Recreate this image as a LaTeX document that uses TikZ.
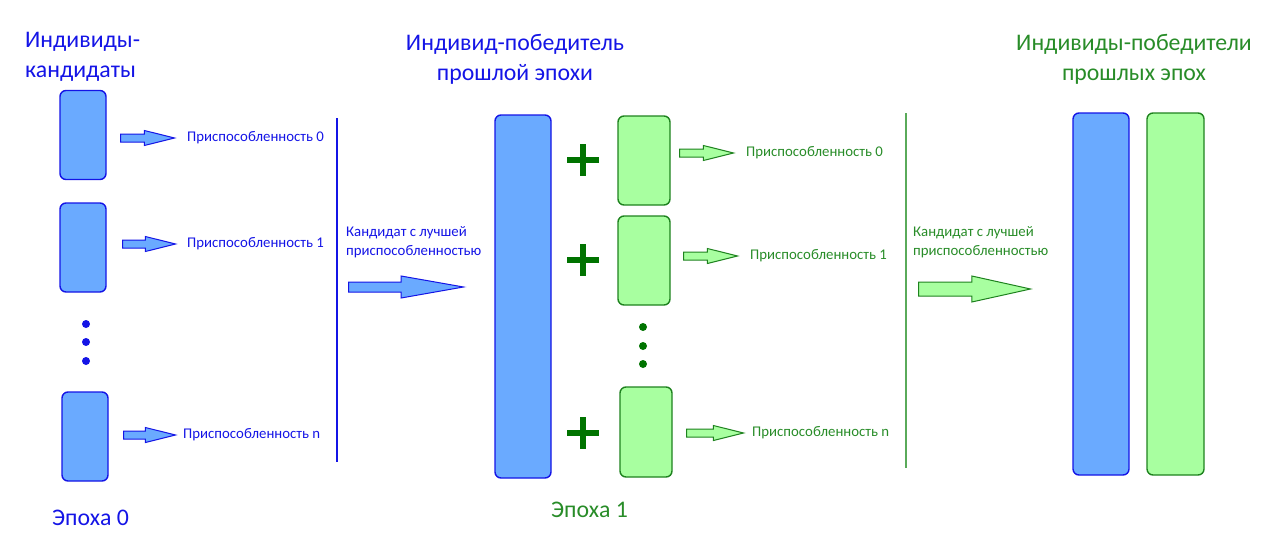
\documentclass[tikz,border=0pt]{standalone}
\usepackage{fontspec}
\setmainfont{Carlito}
\usetikzlibrary{shapes.arrows}

\definecolor{myblue}{RGB}{20,20,230}
\definecolor{bluefill}{RGB}{106,170,255}
\definecolor{mygreen}{RGB}{30,130,30}
\definecolor{greentext}{RGB}{40,140,40}
\definecolor{greenfill}{RGB}{168,255,160}
\definecolor{plusgreen}{RGB}{0,115,0}
\definecolor{greenrule}{RGB}{90,170,90}

\begin{document}
\begin{tikzpicture}[x=1pt,y=-1pt,
        blk/.style={rounded corners=6pt,line width=1.4pt,inner sep=0,minimum width=46pt,minimum height=89pt},
        cand/.style={blk,draw=myblue,fill=bluefill},
        kid/.style={blk,draw=mygreen,fill=greenfill,minimum width=52pt},
        arr/.style={single arrow,anchor=tail,line width=1pt,inner sep=0,inner ysep=3.5pt,
          text height=0pt,text depth=0pt,minimum width=0pt,single arrow head extend=3.5pt,
          single arrow tip angle=28,minimum height=54pt},
        barr/.style={arr,draw=myblue,fill=bluefill},
        garr/.style={arr,draw=mygreen,fill=greenfill},
        lbl/.style={anchor=west,inner sep=0,font=\fontsize{14.8}{17}\selectfont},
        note/.style={anchor=north west,inner sep=0,align=left,font=\fontsize{14.8}{19.5}\selectfont},
        ttl/.style={inner sep=0,font=\fontsize{23.8}{30}\selectfont},
        plus/.style={line width=6pt,draw=plusgreen}]
        \useasboundingbox (0,0) rectangle (1282,551);

        % epoch 0
        \node[ttl,anchor=north west,align=left,text=myblue] (t0) at (25,32) {Индивиды-\\кандидаты};
        \node[cand] (c0) at (83,135) {};
        \node[cand] (c1) at (83,247.5) {};
        \node[cand] (cn) at (85,436.5) {};
        \foreach \y in {324,342,361}
          \fill[myblue] (86,\y) circle (4pt);
        \node[barr] (a0) at (120,138) {};
        \node[barr,minimum height=53pt] (a1) at (122,244) {};
        \node[barr,minimum height=52pt] (an) at (123,435) {};
        \node[lbl,text=myblue] (f0) at (187,138) {Приспособленность 0};
        \node[lbl,text=myblue] (f1) at (187,244) {Приспособленность 1};
        \node[lbl,text=myblue] (fn) at (183,435) {Приспособленность n};
        \draw[myblue,line width=2pt] (337,118) -- (337,462);
        \node[note,text=myblue] (b0) at (346,226) {Кандидат с лучшей\\приспособленностью};
        \node[barr,minimum height=115pt,inner ysep=4.5pt,single arrow head extend=6pt,
          single arrow tip angle=20] (w0) at (348,287) {};
        \node[ttl,anchor=west,text=myblue] (e0) at (52,518) {Эпоха 0};

        % epoch 1
        \node[ttl,anchor=north,align=center,text=myblue] (t1) at (515,34) {Индивид-победитель\\прошлой эпохи};
        \node[cand,minimum width=56pt,minimum height=363pt] (p1) at (523,296.5) {};
        \foreach \y [count=\i] in {160,260,433}
          \draw[plus] (583-16,\y) -- (583+16,\y) (583,\y-16) -- (583,\y+16);
        \node[kid] (k0) at (644,160.5) {};
        \node[kid] (k1) at (644,260.5) {};
        \node[kid,minimum height=90pt] (kn) at (646,432) {};
        \foreach \y in {327,346,364}
          \fill[plusgreen] (643,\y) circle (4pt);
        \node[garr] (g0) at (679,153) {};
        \node[garr] (g1) at (683,256) {};
        \node[garr,minimum height=57pt] (gn) at (686,433) {};
        \node[lbl,text=greentext] (h0) at (746,153) {Приспособленность 0};
        \node[lbl,text=greentext] (h1) at (750,256) {Приспособленность 1};
        \node[lbl,text=greentext] (hn) at (752,433) {Приспособленность n};
        \draw[greenrule,line width=2pt] (906,113) -- (906,468);
        \node[note,text=greentext] (b1) at (913,226) {Кандидат с лучшей\\приспособленностью};
        \node[garr,minimum height=112pt,inner ysep=6.5pt,single arrow head extend=6pt,
          single arrow tip angle=25] (w1) at (918,289) {};
        \node[ttl,anchor=west,text=greentext] (e1) at (551,510) {Эпоха 1};

        % winners
        \node[ttl,anchor=north,align=center,text=greentext] (t2) at (1134,34) {Индивиды-победители\\прошлых эпох};
        \node[cand,minimum width=56pt,minimum height=362pt] (r0) at (1101,294) {};
        \node[kid,minimum width=57pt,minimum height=362pt] (r1) at (1175.5,294) {};
\end{tikzpicture}
\end{document}
